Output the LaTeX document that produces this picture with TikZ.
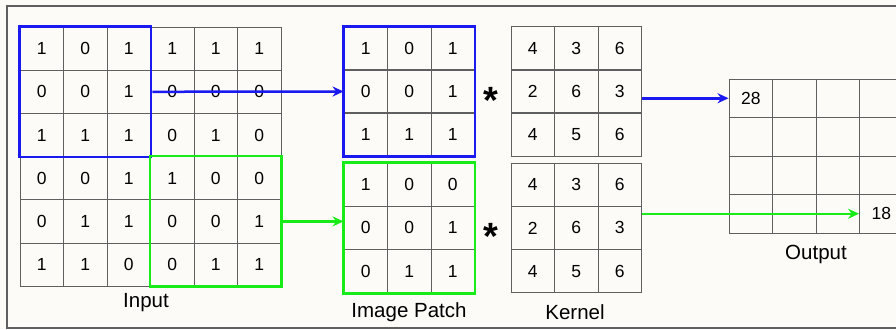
\documentclass[tikz,border=0pt]{standalone}
\usepackage{fontspec}
\setmainfont{Liberation Sans}
\usetikzlibrary{arrows.meta,fit}

\definecolor{winblue}{RGB}{25,25,240}
\definecolor{wingreen}{RGB}{25,235,25}
\definecolor{gridgray}{RGB}{95,95,95}
\definecolor{paper}{RGB}{252,251,247}

\tikzset{
  cell/.style={draw=gridgray, line width=0.9pt, minimum width=43.5pt, minimum height=43.2pt,
    inner sep=0pt, font=\fontsize{17.5}{20}\selectfont},
  outcell/.style={cell, minimum height=38.5pt},
  win/.style={draw=#1, line width=2.6pt, inner sep=0pt},
  conn/.style={draw=#1, line width=2.5pt, -{Stealth[length=11pt,width=10pt]}},
  lbl/.style={font=\fontsize{20.5}{24}\selectfont},
  conv/.style={font=\bfseries\fontsize{38}{38}\selectfont, anchor=base, inner sep=0pt}
}

\begin{document}
\begin{tikzpicture}[x=1pt,y=-1pt]
  \clip (0,0) rectangle (896,329);
  \fill[paper] (0,0) rectangle (896,329);
  \draw[gridgray, line width=1.5pt] (7,6) rectangle (910,328);

  % input image
  \foreach \vals [count=\r] in {{1,0,1,1,1,1},{0,0,1,0,0,0},{1,1,1,0,1,0},{0,0,1,1,0,0},{0,1,1,0,0,1},{1,1,0,0,1,1}}
    \foreach \v [count=\c] in \vals
      \node[cell] (in-\r-\c) at ({20+43.5*\c-21.75},{27+43.2*\r-21.6}) {\v};
  \node[win=winblue, fit=(in-1-1)(in-3-3)] (inBlue) {};
  \node[win=wingreen, fit=(in-4-4)(in-6-6)] (inGreen) {};
  \node[lbl] (inputLbl) at (146,303) {Input};

  % image patches
  \foreach \vals [count=\r] in {{1,0,1},{0,0,1},{1,1,1}}
    \foreach \v [count=\c] in \vals
      \node[cell] (pb-\r-\c) at ({344+43.5*\c-21.75},{27+43*\r-21.5}) {\v};
  \foreach \vals [count=\r] in {{1,0,0},{0,0,1},{0,1,1}}
    \foreach \v [count=\c] in \vals
      \node[cell] (pg-\r-\c) at ({344+43.5*\c-21.75},{163+43.3*\r-21.65}) {\v};
  \node[win=winblue, fit=(pb-1-1)(pb-3-3)] (patchBlue) {};
  \node[win=wingreen, fit=(pg-1-1)(pg-3-3)] (patchGreen) {};
  \node[lbl] (patchLbl) at (409,312) {Image Patch};

  % kernels
  \foreach \vals [count=\r] in {{4,3,6},{2,6,3},{4,5,6}} {
    \foreach \v [count=\c] in \vals {
      \node[cell] (kb-\r-\c) at ({511+43.5*\c-21.75},{27+43*\r-21.5}) {\v};
      \node[cell] (kg-\r-\c) at ({511+43.5*\c-21.75},{163+43.3*\r-21.65}) {\v};
    }
  }
  \node[lbl] (kernLbl) at (575,312) {Kernel};
  \node[conv] (convBlue) at (491,113) {*};
  \node[conv] (convGreen) at (491,249) {*};

  % output
  \foreach \vals [count=\r] in {{28,{},{},{}},{{},{},{},{}},{{},{},{},{}},{{},{},{},18}}
    \foreach \v [count=\c] in \vals
      \node[outcell] (out-\r-\c) at ({729+43.5*\c-21.75},{79+38.5*\r-19.25}) {\v};
  \node[lbl] (outLbl) at (816,254) {Output};

  % connectors
  \draw[conn=winblue] (inBlue.east) -- (pb-2-1.west);
  \draw[conn=wingreen] (inGreen.east) -- (inGreen.east -| pg-2-1.west);
  \draw[conn=winblue] (out-1-1.west -| kb-2-3.east) -- (out-1-1.west);
  \draw[conn=wingreen] (out-4-4.west -| kg-2-3.east) -- (out-4-4.west);
\end{tikzpicture}
\end{document}
